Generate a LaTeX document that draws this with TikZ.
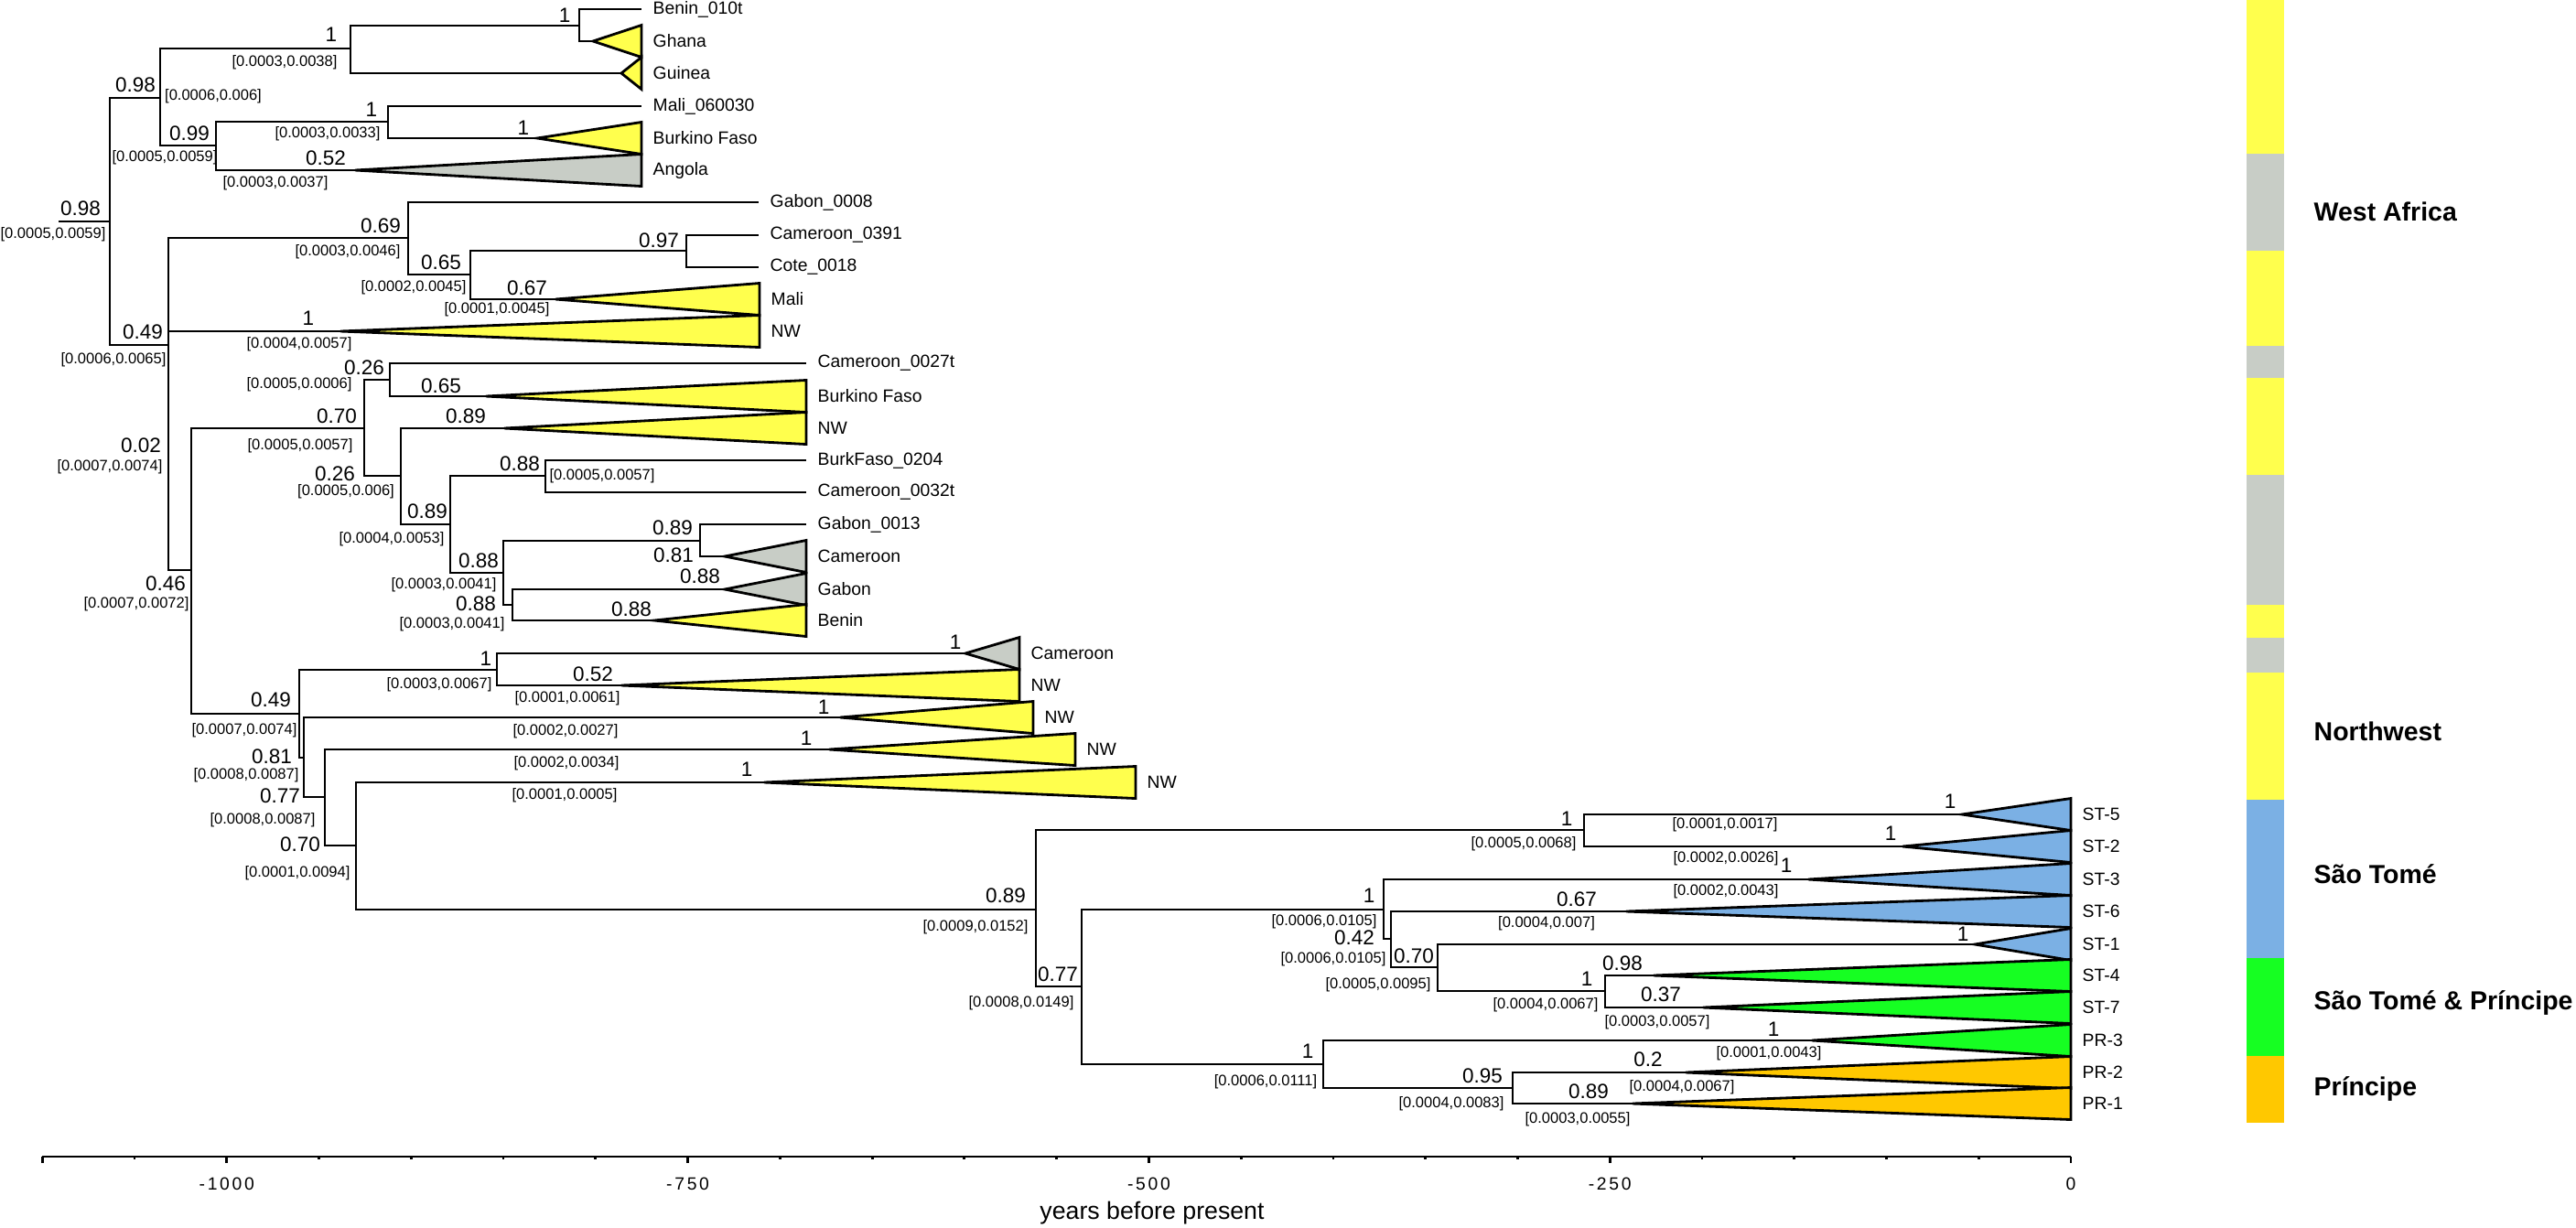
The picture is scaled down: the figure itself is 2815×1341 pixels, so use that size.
\documentclass[tikz,border=0pt]{standalone}
\usepackage{fontspec}
\setmainfont{Liberation Sans}
\newfontfamily\axisfont[LetterSpace=14]{Liberation Sans}
\usepackage{tikz}
\definecolor{cladeyellow}{RGB}{255,255,77}
\definecolor{cladegray}{RGB}{200,205,198}
\definecolor{cladeblue}{RGB}{123,176,228}
\definecolor{cladegreen}{RGB}{22,255,34}
\definecolor{cladeorange}{RGB}{255,200,0}
\tikzset{branch/.style={line width=0.8pt},
  tri/.style={draw=black, line width=0.8pt},
  tiplab/.style={anchor=west, inner sep=0pt, xshift=0.12cm, font=\fontsize{5.5pt}{6pt}\selectfont},
  pp/.style={inner sep=0pt, font=\fontsize{6.4pt}{7pt}\selectfont},
  ci/.style={inner sep=0pt, font=\fontsize{4.7pt}{5pt}\selectfont},
  axlab/.style={inner sep=0pt, font=\fontsize{5.5pt}{6pt}\axisfont},
  region/.style={anchor=west, inner sep=0pt, font=\fontsize{8.1pt}{9pt}\selectfont\bfseries}}
\newcommand{\collapsed}[6]{\coordinate (#1) at (#2,#3);
  \filldraw[tri, fill=#5] (#1) -- (#4,#3-17.5) -- (#4,#3+17.5) -- cycle;
  \node[tiplab] (#1-lab) at (#4,#3) {#6};}
\newcommand{\leaf}[4]{\coordinate (#1) at (#2,#3);
  \node[tiplab] (#1-lab) at (#2,#3) {#4};}

\begin{document}
\begin{tikzpicture}[x=0.01cm, y=-0.01cm]
      \useasboundingbox (0,0) rectangle (2815,1341);
      \foreach \n/\x/\y in {r/120/242, wa/175/107, wa1/383/53, bg/633/28, wa2/236/159, ml/424/133,
        n049/184/377, n069/446/260, n065/514/300, n097/750/274, n002/184/494, n046/209/623,
        n070a/398/468, n026a/426/415, n026b/438/520, n089a/492/573, n088a/596/520, n088b/550/626,
        n089b/765/591, n088c/560/661, n049b/327/780, n1c/543/732, n081/332/828, n077/355/871,
        n070b/389/924, n089c/1132/994, n1d/1731/907, n077b/1182/1078, n1e/1512/994, n042/1520/1026,
        n070c/1571/1057, n1f/1754/1083, n1g/1446/1163, n095/1653/1189}
        \coordinate (\n) at (\x,\y);
      \coordinate (stub) at (64,242);

      \leaf{benin010}{701}{10}{Benin\_010t}
      \leaf{mali060}{701}{116}{Mali\_060030}
      \leaf{gabon08}{829}{221}{Gabon\_0008}
      \leaf{cam0391}{829}{257}{Cameroon\_0391}
      \leaf{cote}{829}{292}{Cote\_0018}
      \leaf{cam0027}{881}{397}{Cameroon\_0027t}
      \leaf{burk0204}{881}{503}{BurkFaso\_0204}
      \leaf{cam0032}{881}{538}{Cameroon\_0032t}
      \leaf{gabon13}{881}{573}{Gabon\_0013}

      \collapsed{ghana}{648}{45}{701}{cladeyellow}{Ghana}
      \collapsed{guinea}{679}{80}{701}{cladeyellow}{Guinea}
      \collapsed{burk1}{587}{151}{701}{cladeyellow}{Burkino Faso}
      \collapsed{angola}{388}{186}{701}{cladegray}{Angola}
      \collapsed{mali}{607}{327}{830}{cladeyellow}{Mali}
      \collapsed{nw1}{372}{362}{830}{cladeyellow}{NW}
      \collapsed{burk2}{531}{433}{881}{cladeyellow}{Burkino Faso}
      \collapsed{nw2}{551}{468}{881}{cladeyellow}{NW}
      \collapsed{cam1}{792}{608}{881}{cladegray}{Cameroon}
      \collapsed{gabon}{792}{644}{881}{cladegray}{Gabon}
      \collapsed{benin}{715}{678}{881}{cladeyellow}{Benin}
      \collapsed{cam2}{1055}{714}{1114}{cladegray}{Cameroon}
      \collapsed{nw3}{679}{749}{1114}{cladeyellow}{NW}
      \collapsed{nw4}{918}{784}{1129}{cladeyellow}{NW}
      \collapsed{nw5}{906}{819}{1175}{cladeyellow}{NW}
      \collapsed{nw6}{835}{855}{1241}{cladeyellow}{NW}
      \collapsed{st5}{2144}{890}{2263}{cladeblue}{ST-5}
      \collapsed{st2}{2079}{925}{2263}{cladeblue}{ST-2}
      \collapsed{st3}{1976}{961}{2263}{cladeblue}{ST-3}
      \collapsed{st6}{1777}{996}{2263}{cladeblue}{ST-6}
      \collapsed{st1}{2158}{1032}{2263}{cladeblue}{ST-1}
      \collapsed{st4}{1807}{1066}{2263}{cladegreen}{ST-4}
      \collapsed{st7}{1861}{1101}{2263}{cladegreen}{ST-7}
      \collapsed{pr3}{1980}{1137}{2263}{cladegreen}{PR-3}
      \collapsed{pr2}{1842}{1172}{2263}{cladeorange}{PR-2}
      \collapsed{pr1}{1784}{1206}{2263}{cladeorange}{PR-1}

      \draw[branch] (stub) -- (r);
      \foreach \a/\b in {r/wa, r/n049, wa/wa1, wa/wa2, wa1/bg, wa1/guinea, bg/benin010, bg/ghana,
        wa2/ml, wa2/angola, ml/mali060, ml/burk1, n049/n069, n049/n002, n069/gabon08, n069/n065,
        n065/n097, n065/mali, n097/cam0391, n097/cote, n002/nw1, n002/n046, n046/n070a, n046/n049b,
        n070a/n026a, n070a/n026b, n026a/cam0027, n026a/burk2, n026b/nw2, n026b/n089a,
        n089a/n088a, n089a/n088b, n088a/burk0204, n088a/cam0032, n088b/n089b, n088b/n088c,
        n089b/gabon13, n089b/cam1, n088c/gabon, n088c/benin, n049b/n1c, n049b/n081, n1c/cam2, n1c/nw3,
        n081/nw4, n081/n077, n077/nw5, n077/n070b, n070b/nw6, n070b/n089c, n089c/n1d, n089c/n077b,
        n1d/st5, n1d/st2, n077b/n1e, n077b/n1g, n1e/st3, n1e/n042, n042/st6, n042/n070c,
        n070c/st1, n070c/n1f, n1f/st4, n1f/st7, n1g/pr3, n1g/n095, n095/pr2, n095/pr1}
        \draw[branch] (\a) |- (\b);

      \foreach \x/\y/\t [count=\i] in {617/17/1, 362/38/1, 148/93/0.98, 406/120/1, 572/140/1,
        207/146/0.99, 356/173/0.52, 88/228/0.98, 416/247/0.69, 720/263/0.97, 482/287/0.65,
        576/315/0.67, 337/348/1, 156/363/0.49, 398/402/0.26, 482/422/0.65, 368/455/0.70,
        509/455/0.89, 154/487/0.02, 366/518/0.26, 568/507/0.88, 467/559/0.89, 735/577/0.89,
        736/607/0.81, 523/613/0.88, 765/630/0.88, 520/660/0.88, 690/666/0.88, 181/638/0.46,
        531/720/1, 648/737/0.52, 296/765/0.49, 1044/702/1, 900/773/1, 881/807/1, 297/827/0.81,
        816/841/1, 306/870/0.77, 328/923/0.70, 1099/979/0.89, 1712/895/1, 1156/1065/0.77,
        1496/979/1, 1480/1025/0.42, 1545/1045/0.70, 1723/983/0.67, 1773/1053/0.98, 1734/1070/1,
        1429/1149/1, 1620/1176/0.95, 1736/1193/0.89, 2131/876/1, 2066/911/1, 1952/946/1,
        2145/1021/1, 1815/1087/0.37, 1938/1125/1, 1801/1158/0.2}
        \node[pp] (pp\i) at (\x,\y) {\t};

      \foreach \x/\y/\a/\b [count=\i] in {311/68/0.0003/0.0038, 233/105/0.0006/0.006,
        358/146/0.0003/0.0033, 180/172/0.0005/0.0059, 301/200/0.0003/0.0037, 58/256/0.0005/0.0059,
        380/275/0.0003/0.0046, 452/314/0.0002/0.0045, 543/338/0.0001/0.0045, 327/376/0.0004/0.0057,
        124/393/0.0006/0.0065, 327/420/0.0005/0.0006, 328/487/0.0005/0.0057, 120/510/0.0007/0.0074,
        378/537/0.0005/0.006, 658/520/0.0005/0.0057, 428/589/0.0004/0.0053, 485/639/0.0003/0.0041,
        494/682/0.0003/0.0041, 149/660/0.0007/0.0072, 480/748/0.0003/0.0067, 620/763/0.0001/0.0061,
        267/798/0.0007/0.0074, 618/799/0.0002/0.0027, 269/847/0.0008/0.0087, 619/834/0.0002/0.0034,
        617/869/0.0001/0.0005, 287/896/0.0008/0.0087, 325/954/0.0001/0.0094, 1066/1013/0.0009/0.0152,
        1665/922/0.0005/0.0068, 1116/1096/0.0008/0.0149, 1447/1007/0.0006/0.0105,
        1457/1048/0.0006/0.0105, 1506/1076/0.0005/0.0095, 1690/1009/0.0004/0.007,
        1689/1098/0.0004/0.0067, 1383/1182/0.0006/0.0111, 1586/1206/0.0004/0.0083,
        1724/1223/0.0003/0.0055, 1885/901/0.0001/0.0017, 1886/938/0.0002/0.0026,
        1886/974/0.0002/0.0043, 1811/1117/0.0003/0.0057, 1933/1151/0.0001/0.0043,
        1838/1188/0.0004/0.0067}
        \node[ci] (ci\i) at (\x,\y) {[\a,\b]};

      \coordinate (axl) at (46,1264);
      \coordinate (axr) at (2263,1264);
      \draw[branch] (axl) -- (axr);
      \foreach \i in {0,5,10,15,20,22} \draw[branch] (2263-\i*100.76,1264) -- ++(0,7);
      \foreach \i in {1,2,3,4,6,7,8,9,11,12,13,14,16,17,18,19,21} \draw[branch] (2263-\i*100.76,1264) -- ++(0,3);
      \foreach \v/\i in {0/0, -250/5, -500/10, -750/15, -1000/20}
        \node[axlab] (ax\i) at (2263-\i*100.76,1294) {\v};
      \node[inner sep=0pt, font=\fontsize{7.6pt}{9pt}\selectfont] (axtitle) at (1259,1326) {years before present};

      \foreach \a/\b/\c in {0/168/cladeyellow, 168/274/cladegray, 274/378/cladeyellow, 378/413/cladegray,
        413/519/cladeyellow, 519/661/cladegray, 661/697/cladeyellow, 697/735/cladegray,
        735/874/cladeyellow, 874/1047/cladeblue, 1047/1154/cladegreen, 1154/1227/cladeorange}
        \fill[\c] (2455,\a) rectangle (2496,\b);
      \node[region] (reg1) at (2528,231) {West Africa};
      \node[region] (reg2) at (2528,799) {Northwest};
      \node[region] (reg3) at (2528,955) {São Tomé};
      \node[region] (reg4) at (2528,1096) {São Tomé \& Príncipe};
      \node[region] (reg5) at (2528,1190) {Príncipe};
\end{tikzpicture}
\end{document}
